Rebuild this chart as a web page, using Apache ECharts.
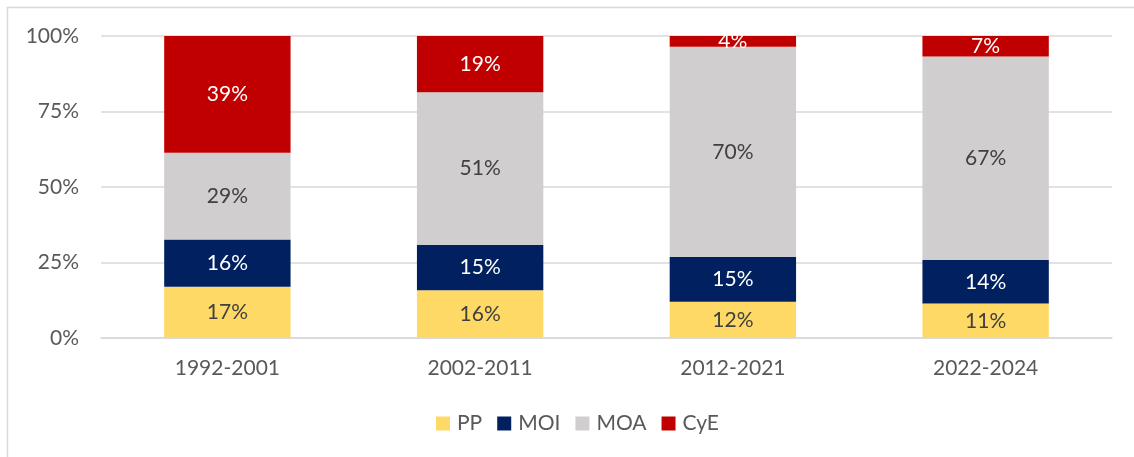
<!DOCTYPE html>
<html>
<head>
<meta charset="utf-8">
<script src="https://cdn.jsdelivr.net/npm/echarts@6/dist/echarts.min.js"></script>
<style>
  html, body { margin: 0; padding: 0; background: #fff; }
  #main { width: 1134px; height: 457px; }
</style>
</head>
<body>
<div id="main"></div>
<script>
var periodos = ['1992-2001', '2002-2011', '2012-2021', '2022-2024'];
var pp  = [17.0, 15.8, 12.0, 11.4];
var moi = [15.6, 15.0, 14.8, 14.4];
var moa = [28.7, 50.6, 69.6, 67.4];
var cye = [38.7, 18.6, 3.6, 6.8];
var yTicks = [0, 25, 50, 75, 100];

var fuente = 'Lato, "Open Sans", sans-serif';

function serie(nombre, datos, color, colorTexto) {
    return {
        name: nombre,
        type: 'bar',
        stack: 'total',
        barWidth: '50%',
        data: datos,
        itemStyle: { color: color },
        label: {
            show: true,
            position: 'inside',
            color: colorTexto,
            fontFamily: fuente,
            fontSize: 21,
            formatter: function (p) { return Math.round(p.value) + '%'; }
        }
    };
}

var chart = echarts.init(document.getElementById('main'));
chart.setOption({
    animation: false,
    textStyle: { fontFamily: fuente },
    graphic: [{
        type: 'rect',
        shape: { x: 7.5, y: 7.5, width: 1140, height: 470 },
        style: { fill: 'none', stroke: '#d9d9d9', lineWidth: 1.5 },
        silent: true
    }],
    grid: { left: 101, right: 22, top: 36, bottom: 119 },
    legend: {
        data: ['PP', 'MOI', 'MOA', 'CyE'],
        top: 408,
        left: 431,
        itemWidth: 14,
        itemHeight: 14,
        itemGap: 15,
        icon: 'rect',
        textStyle: { color: '#595959', fontSize: 21, fontFamily: fuente, padding: [0, 0, 0, 2] }
    },
    xAxis: {
        type: 'category',
        data: periodos,
        axisTick: { show: false },
        axisLine: { lineStyle: { color: '#d9d9d9', width: 1.5 } },
        axisLabel: { color: '#595959', fontSize: 21, margin: 20, fontFamily: fuente }
    },
    yAxis: {
        type: 'value',
        min: yTicks[0],
        max: yTicks[yTicks.length - 1],
        interval: 25,
        axisLine: { show: false },
        axisTick: { show: false },
        splitLine: { lineStyle: { color: '#d9d9d9', width: 1.5 } },
        axisLabel: { color: '#595959', fontSize: 21, margin: 22, fontFamily: fuente,
            formatter: '{value}%' }
    },
    series: [
        serie('PP', pp, '#FFD966', '#404040'),
        serie('MOI', moi, '#002060', '#ffffff'),
        serie('MOA', moa, '#D0CECE', '#404040'),
        serie('CyE', cye, '#C00000', '#ffffff')
    ]
});
</script>
</body>
</html>
